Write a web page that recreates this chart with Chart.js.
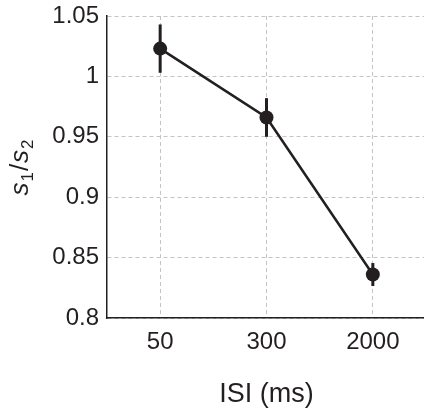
<!DOCTYPE html>
<html>
<head>
<meta charset="utf-8">
<script src="https://cdn.jsdelivr.net/npm/chart.js@4/dist/chart.umd.min.js"></script>
<style>
  html, body { margin: 0; padding: 0; background: #fff; overflow: hidden; }
  #wrap { width: 426px; height: 411px; }
</style>
</head>
<body>
<div id="wrap"><canvas id="isiChart" width="426" height="411"></canvas></div>
<script>
// data
const isiLabels = ['50', '300', '2000'];
const ratioMeans = [1.023, 0.966, 0.836];
const ratioErrors = [0.020, 0.016, 0.0095];
const yTicks = [0.8, 0.85, 0.9, 0.95, 1, 1.05];

const ink = '#231f20';
const fontFamily = '"Liberation Sans", Arial, Helvetica, sans-serif';

// vertical error bars drawn through the chart scales
const errorBars = {
    id: 'errorBars',
    beforeDatasetsDraw(chart) {
        const ctx = chart.ctx;
        const xs = chart.scales.x;
        const ys = chart.scales.y;
        ctx.save();
        ctx.strokeStyle = ink;
        ctx.lineWidth = 3;
        ratioMeans.forEach((m, i) => {
            const x = xs.getPixelForValue(i);
            ctx.beginPath();
            ctx.moveTo(x, ys.getPixelForValue(m - ratioErrors[i]));
            ctx.lineTo(x, ys.getPixelForValue(m + ratioErrors[i]));
            ctx.stroke();
        });
        ctx.restore();
    }
};

// y axis title with italic s and subscripts
const yTitle = {
    id: 'yTitle',
    afterDraw(chart) {
        const ctx = chart.ctx;
        const area = chart.chartArea;
        const parts = [
            { t: 's', f: 'italic 26px ' + fontFamily, dy: 0 },
            { t: '1', f: '17px ' + fontFamily, dy: 5 },
            { t: '/', f: '26px ' + fontFamily, dy: 0 },
            { t: 's', f: 'italic 26px ' + fontFamily, dy: 0 },
            { t: '2', f: '17px ' + fontFamily, dy: 5 }
        ];
        ctx.save();
        let total = 0;
        parts.forEach(p => { ctx.font = p.f; p.w = ctx.measureText(p.t).width + 1; total += p.w; });
        ctx.translate(28, (area.top + area.bottom) / 2);
        ctx.rotate(-Math.PI / 2);
        ctx.fillStyle = ink;
        ctx.textBaseline = 'alphabetic';
        let x = -total / 2;
        parts.forEach(p => {
            ctx.font = p.f;
            ctx.fillText(p.t, x, p.dy);
            x += p.w;
        });
        ctx.restore();
    }
};

const chart = new Chart(document.getElementById('isiChart').getContext('2d'), {
    type: 'line',
    data: {
        labels: isiLabels,
        datasets: [{
            data: ratioMeans,
            borderColor: ink,
            backgroundColor: ink,
            borderWidth: 2.5,
            pointRadius: 7,
            pointBorderWidth: 0,
            pointBackgroundColor: ink,
            tension: 0
        }]
    },
    options: {
        responsive: false,
        animation: false,
        layout: { autoPadding: false, padding: { top: 16, right: 0, bottom: 0, left: 0 } },
        plugins: { legend: { display: false }, tooltip: { enabled: false } },
        scales: {
            x: {
                offset: true,
                grid: {
                    color: '#c4c4c4',
                    drawTicks: false,
                    offset: false
                },
                border: { display: true, color: ink, width: 1.5, dash: [4, 3] },
                ticks: {
                    color: ink,
                    padding: 10,
                    font: { family: fontFamily, size: 24 }
                },
                title: {
                    display: true,
                    text: 'ISI (ms)',
                    color: ink,
                    font: { family: fontFamily, size: 27 },
                    padding: { top: 22, bottom: 0 }
                },
                afterFit(scale) {
                    scale.height = 93;
                    scale.paddingLeft = 0;
                    scale.paddingRight = 0;
                }
            },
            y: {
                min: 0.8,
                max: 1.05,
                afterBuildTicks(scale) { scale.ticks = yTicks.map(v => ({ value: v })); },
                grid: {
                    color: '#c4c4c4',
                    drawTicks: false
                },
                border: { display: true, color: ink, width: 1.5, dash: [4, 3] },
                ticks: {
                    color: ink,
                    padding: 8,
                    font: { family: fontFamily, size: 24 },
                    callback: v => String(Math.round(v * 100) / 100)
                },
                afterFit(scale) {
                    scale.width = 107;
                    scale.paddingTop = 0;
                    scale.paddingBottom = 0;
                }
            }
        }
    },
    plugins: [errorBars, yTitle]
});
</script>
</body>
</html>
